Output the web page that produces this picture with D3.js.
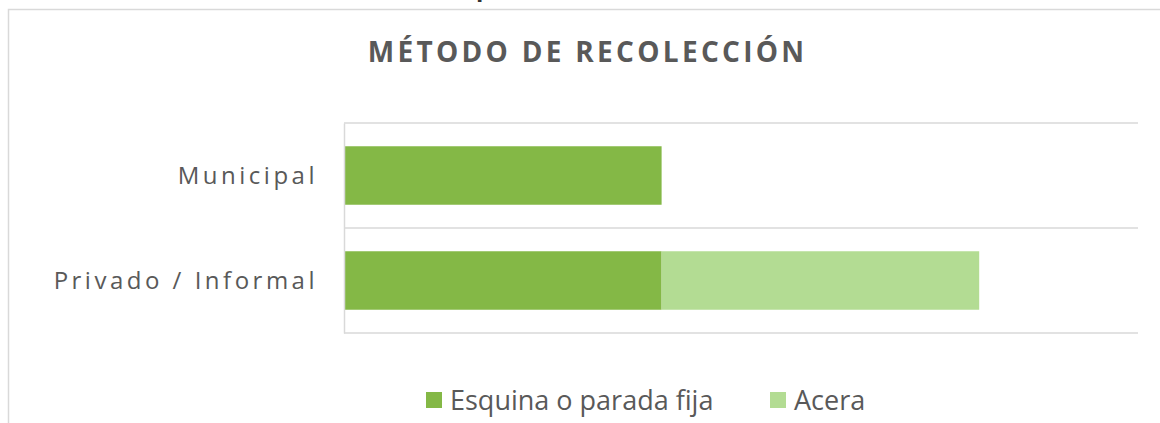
<!DOCTYPE html>
<html>
<head>
<meta charset="utf-8">
<script src="https://cdn.jsdelivr.net/npm/d3@7"></script>
<style>
  html, body { margin: 0; padding: 0; background: #fff; }
  svg { display: block; }
  text { font-family: "Open Sans", sans-serif; }
</style>
</head>
<body>
<svg id="chart" width="1160" height="423"></svg>
<script>
const categories = ["Municipal", "Privado / Informal"];
const seriesNames = ["Esquina o parada fija", "Acera"];
const esquinaValues = [2, 2];
const aceraValues = [0, 2];
const xDomain = [0, 5];
const titleText = "MÉTODO DE RECOLECCIÓN";

const colors = ["#84b846", "#b3dc93"];
const textColor = "#595959";
const gridColor = "#d9d9d9";

const svg = d3.select("#chart");

// cut-off glyph from text above the chart
svg.append("text").attr("x", 476).attr("y", -4)
  .attr("font-size", 24).attr("font-weight", 700).attr("fill", "#333")
  .text("p");

// chart border (left + top visible)
svg.append("path")
  .attr("d", "M8.5,423 L8.5,9.5 L1160,9.5")
  .attr("fill", "none").attr("stroke", gridColor).attr("stroke-width", 1.5);

// title
svg.append("text")
  .attr("x", 586 + 1.6).attr("y", 62)
  .attr("text-anchor", "middle")
  .attr("font-size", 28).attr("font-weight", 700)
  .attr("letter-spacing", "3.3px")
  .attr("fill", textColor)
  .text(titleText);

const x = d3.scaleLinear().domain(xDomain).range([344, 1138]);
const y = d3.scaleBand().domain(categories).range([123, 333])
  .paddingInner(0.443).paddingOuter(0.2215);

// gridlines at category boundaries
const step = y.step();
const boundaries = [0, 1, 2].map(i => 123 + i * step);
svg.append("g").selectAll("line").data(boundaries).join("line")
  .attr("x1", 344).attr("x2", 1138)
  .attr("y1", d => d).attr("y2", d => d)
  .attr("stroke", gridColor).attr("stroke-width", 1.5);

// stacked bars
const rows = categories.map((c, i) => ({ cat: c, esquina: esquinaValues[i], acera: aceraValues[i] }));
const stack = d3.stack().keys(["esquina", "acera"]);
const stacked = stack(rows);

svg.append("g").selectAll("g").data(stacked).join("g")
  .attr("fill", (d, i) => colors[i])
  .selectAll("rect").data(d => d).join("rect")
  .attr("x", d => x(d[0]))
  .attr("y", d => y(d.data.cat))
  .attr("width", d => x(d[1]) - x(d[0]))
  .attr("height", y.bandwidth());

// category axis
const axis = svg.append("g").attr("transform", "translate(344,0)")
  .call(d3.axisLeft(y).tickSize(0).tickSizeOuter(0).tickPadding(26));
axis.select(".domain").attr("stroke", gridColor).attr("stroke-width", 1.5);
axis.selectAll(".tick text")
  .attr("font-family", "'Open Sans', sans-serif")
  .attr("font-size", 24)
  .attr("letter-spacing", "3.5px")
  .attr("fill", textColor)
  .attr("dy", "0.36em");

// legend
const legendItems = [
  { name: seriesNames[0], color: colors[0], x: 426 },
  { name: seriesNames[1], color: colors[1], x: 770 }
];
const lg = svg.append("g").selectAll("g").data(legendItems).join("g")
  .attr("transform", d => `translate(${d.x},0)`);
lg.append("rect").attr("x", 0).attr("y", 392).attr("width", 16).attr("height", 16)
  .attr("fill", d => d.color);
lg.append("text").attr("x", 24).attr("y", 410)
  .attr("font-size", 27).attr("fill", textColor)
  .text(d => d.name);
</script>
</body>
</html>
